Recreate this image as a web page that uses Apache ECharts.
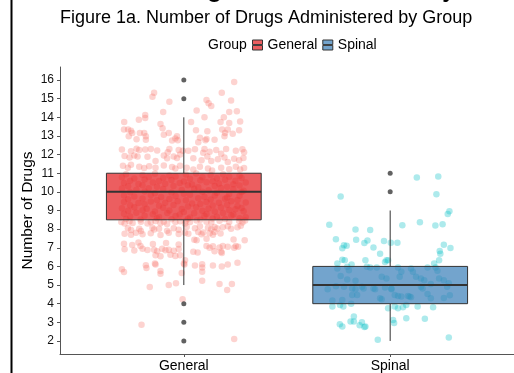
<!DOCTYPE html>
<html><head><meta charset="utf-8">
<script src="https://cdn.jsdelivr.net/npm/echarts@6/dist/echarts.min.js"></script>
<style>html,body{margin:0;padding:0;background:#fff}#c{width:514px;height:373px}</style>
</head><body><div id="c"></div>
<script>
const categories = ['General', 'Spinal'];
const yTicks = [2,3,4,5,6,7,8,9,10,11,12,13,14,15,16];
// box statistics: [lower whisker, Q1, median, Q3, upper whisker]
const generalBox = [5, 8.5, 10, 11, 14];
const spinalBox = [2, 4, 5, 6, 9];
const generalOutliers = [2, 3, 4, 15, 16];
const spinalOutliers = [10, 11];
// jittered observations: [horizontal jitter offset from category, value]
const generalJitter = [
[-0.144,15.32],[-0.152,15.11],[-0.07,14.83],[-0.10,14.29],[-0.187,14.13],[-0.187,13.96],[-0.218,13.87],[-0.289,13.75],[-0.29,13.34],[-0.27,13.34],[-0.256,13.28],[-0.25,13.16],[-0.113,13.64],[-0.103,13.41],[-0.073,13.16],[-0.097,13.07],[-0.213,13.16],[-0.192,13.16],[-0.184,12.98],[-0.267,12.98],[-0.229,12.82],[-0.184,12.8],[-0.057,12.75],[-0.041,12.86],[-0.033,12.98],[-0.029,12.77],
[-0.30,12.27],[-0.256,12.18],[-0.229,12.32],[-0.216,12.25],[-0.187,12.27],[-0.16,12.3],[-0.129,12.22],[-0.078,12.13],[-0.07,12.3],[-0.025,12.25],[-0.005,12.2],
[-0.287,11.92],[-0.263,11.85],[-0.24,11.95],[-0.224,11.9],[-0.176,11.88],[-0.137,11.65],[-0.097,11.95],[-0.081,11.8],[-0.049,11.9],[-0.033,11.82],[-0.018,12.0],
[-0.295,11.4],[-0.271,11.3],[-0.256,11.45],[-0.216,11.35],[-0.192,11.28],[-0.168,11.38],[-0.137,11.3],[-0.097,11.42],[-0.057,11.33],[-0.041,11.25],[-0.018,11.4],
[0.244,15.9],[0.184,15.32],[0.11,14.93],[0.12,14.76],[0.133,14.61],[0.229,14.9],[0.062,14.36],[0.10,14.01],[0.194,14.01],[0.22,14.29],[0.257,14.33],[0.035,13.75],[0.178,13.75],[0.22,13.7],[0.273,13.78],[0.059,13.3],[0.114,13.25],[0.186,13.34],[0.213,13.34],[0.2,13.16],[0.197,12.98],[0.237,13.12],[0.268,13.3],[0.078,12.9],[0.07,12.66],[0.11,12.84],[0.105,12.77],[0.149,12.8],
[0.022,12.2],[0.054,12.28],[0.094,12.1],[0.10,12.3],[0.125,12.15],[0.157,12.25],[0.181,12.05],[0.205,12.3],[0.252,12.2],[0.284,12.28],[0.292,12.12],
[0.046,11.8],[0.086,11.7],[0.114,11.9],[0.133,11.65],[0.165,11.75],[0.197,11.85],[0.213,11.6],[0.244,11.78],[0.268,11.7],[0.289,11.82],
[0.014,11.3],[0.046,11.2],[0.078,11.35],[0.117,11.25],[0.137,11.15],[0.181,11.3],[0.22,11.22],[0.252,11.35],[0.273,11.2],[0.292,11.28],
[-0.28,10.95],[-0.2,10.9],[-0.14,10.97],[-0.07,10.88],[0.01,10.93],[0.06,10.98],[0.13,10.9],[0.19,10.95],[0.27,10.87],
[-0.3,10.78],[-0.24,10.72],[-0.17,10.8],[-0.1,10.75],[-0.04,10.82],[0.03,10.7],[0.09,10.79],[0.16,10.73],[0.22,10.81],[0.28,10.74],
[-0.26,10.6],[-0.19,10.66],[-0.12,10.58],[-0.06,10.63],[0.0,10.55],[0.08,10.62],[0.14,10.57],[0.2,10.65],[0.25,10.59],
[-0.29,10.47],[-0.22,10.42],[-0.15,10.5],[-0.09,10.44],[-0.02,10.48],[0.04,10.4],[0.11,10.52],[0.17,10.45],[0.24,10.41],[0.3,10.5],
[-0.27,10.3],[-0.2,10.35],[-0.13,10.27],[-0.05,10.32],[0.02,10.36],[0.07,10.25],[0.15,10.31],[0.21,10.28],[0.27,10.34],
[-0.3,10.18],[-0.23,10.12],[-0.17,10.2],[-0.1,10.15],[-0.01,10.1],[0.05,10.17],[0.12,10.08],[0.18,10.21],[0.24,10.14],[0.29,10.06],
[-0.26,9.98],[-0.19,10.02],[-0.14,9.93],[-0.06,9.97],[0.0,9.9],[0.09,10.0],[0.16,9.95],[0.22,9.88],[0.28,9.99],
[-0.29,9.8],[-0.24,9.75],[-0.16,9.83],[-0.11,9.72],[-0.04,9.78],[0.03,9.85],[0.1,9.74],[0.15,9.81],[0.21,9.7],[0.27,9.79],
[-0.27,9.6],[-0.2,9.65],[-0.13,9.57],[-0.07,9.62],[0.01,9.55],[0.07,9.66],[0.13,9.59],[0.2,9.63],[0.26,9.56],
[-0.29,9.45],[-0.22,9.4],[-0.16,9.48],[-0.09,9.42],[-0.03,9.5],[0.04,9.38],[0.11,9.46],[0.17,9.41],[0.23,9.49],[0.3,9.43],
[-0.26,9.28],[-0.19,9.33],[-0.12,9.25],[-0.05,9.3],[0.02,9.22],[0.08,9.35],[0.14,9.27],[0.21,9.31],[0.26,9.24],
[-0.3,9.12],[-0.24,9.17],[-0.18,9.1],[-0.1,9.15],[-0.01,9.08],[0.06,9.18],[0.12,9.11],[0.18,9.16],[0.25,9.07],[0.28,9.14],
[-0.27,8.98],[-0.2,9.02],[-0.14,8.95],[-0.07,9.0],[0.0,8.92],[0.09,8.99],[0.15,8.94],[0.22,9.03],[0.29,8.96],
[-0.29,8.83],[-0.23,8.88],[-0.15,8.8],[-0.08,8.86],[-0.02,8.79],[0.05,8.85],[0.11,8.81],[0.19,8.87],[0.24,8.78],
[-0.26,8.68],[-0.19,8.72],[-0.12,8.65],[-0.04,8.7],[0.03,8.63],[0.1,8.71],[0.16,8.66],[0.23,8.73],[0.3,8.64],
[-0.28,8.55],[-0.21,8.52],[-0.13,8.58],[-0.06,8.53],[0.02,8.56],[0.08,8.51],[0.14,8.57],[0.2,8.54],[0.27,8.59],
[-0.303,8.38],[-0.287,8.3],[-0.263,8.42],[-0.248,8.33],[-0.208,8.4],[-0.176,8.3],[-0.16,8.38],[-0.137,8.44],[-0.113,8.32],[-0.097,8.4],[-0.081,8.28],[-0.041,8.38],[-0.018,8.42],[0.006,8.3],
[-0.271,8.05],[-0.256,7.95],[-0.216,8.02],[-0.208,7.9],[-0.152,8.08],[-0.144,7.98],[-0.12,8.02],[-0.081,7.92],[-0.049,8.05],[-0.025,7.97],
[-0.287,7.75],[-0.256,7.7],[-0.232,7.8],[-0.2,7.72],[-0.16,7.78],[-0.113,7.68],[-0.073,7.8],[-0.025,7.74],
[-0.29,7.22],[-0.25,7.15],[-0.22,7.28],[-0.21,7.1],[-0.15,7.2],[-0.086,7.25],[-0.025,7.18],
[-0.287,6.92],[-0.24,6.85],[-0.2,6.95],[-0.176,6.88],[-0.144,6.9],[-0.129,6.82],[-0.105,6.95],[-0.089,6.87],[-0.073,6.9],[-0.049,6.84],[-0.025,6.93],
[-0.137,6.6],[-0.113,6.55],[-0.065,6.62],[-0.041,6.56],[-0.018,6.6],
[0.006,6.33],[-0.184,6.06],[-0.181,5.92],[-0.137,6.1],[-0.3,5.85],[-0.29,5.7],[-0.113,5.6],[-0.01,5.65],[-0.165,4.9],[-0.073,5.0],[-0.038,5.09],[-0.006,4.24],[-0.205,2.87],[-0.14,6.15],[0.0,6.15],[-0.113,5.76],
[0.01,8.44],[0.03,8.38],[0.062,8.46],[0.11,8.4],[0.133,8.35],[0.173,8.45],[0.22,8.38],[0.268,8.43],[0.284,8.36],[0.297,8.47],
[0.014,8.12],[0.054,8.05],[0.078,8.15],[0.117,8.08],[0.133,8.0],[0.149,8.12],[0.162,8.04],[0.189,8.1],[0.213,8.15],[0.229,8.02],[0.26,8.1],[0.276,8.18],
[0.006,7.8],[0.022,7.75],[0.07,7.85],[0.086,7.72],[0.094,7.82],[0.125,7.78],[0.141,7.7],[0.149,7.85],[0.178,7.76],
[0.051,7.43],[0.062,7.4],[0.11,7.48],[0.241,7.45],[0.295,7.4],
[0.11,7.1],[0.125,7.0],[0.141,7.08],[0.173,7.02],[0.189,7.1],[0.213,7.05],[0.244,7.0],[0.252,7.1],[0.263,7.06],
[0.046,6.79],[0.067,6.75],[0.149,6.82],[0.181,6.78],[0.184,6.72],
[0.003,6.1],[0.054,6.05],[0.089,6.12],[0.141,6.05],[0.184,6.0],[0.213,6.1],[0.26,6.2],
[0.089,5.94],[0.089,5.71],[0.089,5.23],[0.173,5.05],[0.233,5.05],[0.21,4.73],[0.244,2.1]
];
const spinalJitter = [
[-0.24,9.75],[-0.295,8.23],[-0.168,7.98],[-0.097,7.96],[-0.263,7.46],[-0.165,7.43],[-0.125,7.25],[-0.11,7.39],[-0.224,7.13],[-0.211,7.11],[-0.232,6.97],[-0.081,7.02],[-0.049,6.68],[-0.03,7.36],[-0.232,6.36],[-0.22,6.33],[-0.256,6.15],[-0.12,6.33],[-0.025,6.24],[-0.018,6.33],[-0.187,6.1],
[-0.256,5.89],[-0.208,5.98],[-0.2,5.8],[-0.113,5.98],[-0.097,5.94],[-0.065,5.94],[-0.041,5.44],[-0.018,5.35],[-0.24,5.48],[-0.208,5.3],[-0.168,5.23],[-0.303,4.77],[-0.263,4.94],[-0.224,4.91],[-0.184,4.82],[-0.168,4.77],[-0.137,4.91],[-0.129,4.82],[-0.081,4.82],[-0.073,4.77],[-0.025,4.87],[0.006,4.82],[-0.184,4.46],[-0.16,4.46],[-0.28,4.17],[-0.232,4.2],[-0.049,4.29],[-0.041,4.24],
[-0.28,3.85],[-0.243,3.93],[-0.227,3.85],[-0.189,3.99],[-0.01,3.76],[-0.176,3.31],[-0.192,3.05],[-0.176,3.05],[-0.148,2.84],[-0.137,3.0],[-0.125,2.75],[-0.12,2.78],[-0.244,2.9],[-0.232,2.78],[-0.06,2.07],
[0.129,10.77],[0.233,10.82],[0.224,9.87],[0.287,8.96],[0.279,8.81],[0.059,8.21],[0.144,8.37],[0.219,8.19],[0.254,8.26],[0.003,7.27],[0.035,7.27],[0.26,7.16],[0.292,6.99],[0.24,6.83],[0.243,6.68],[0.237,6.33],[0.213,6.15],[-0.01,6.33],
[0.038,5.94],[0.054,5.71],[0.101,5.89],[0.11,5.71],[0.181,5.94],[0.22,5.94],[0.229,5.77],[0.046,5.44],[0.125,5.44],[0.149,5.35],[0.165,5.26],[0.237,5.35],[0.26,5.26],[0.284,5.09],[0.006,4.77],[0.149,4.91],[0.157,4.82],[0.197,5.05],[0.276,4.91],[0.022,4.46],[0.038,4.41],[0.054,4.38],[0.086,4.41],[0.094,4.38],[0.101,4.34],[0.181,4.52],[0.197,4.29],[0.26,4.31],[0.289,4.45],
[0.022,3.85],[0.038,3.76],[0.062,3.81],[0.078,3.93],[0.133,3.85],[0.208,3.81],[0.014,3.13],[0.019,2.96],[0.078,3.22],[0.168,3.19],[0.284,2.18]
];

const FONT = '"Liberation Sans", Arial, Helvetica, sans-serif';
const BOX_HALF = 0.375;

function boxRender(params, api) {
  const x = api.value(0);
  const pMin = api.coord([x, api.value(1)]);
  const pQ1 = api.coord([x, api.value(2)]);
  const pMed = api.coord([x, api.value(3)]);
  const pQ3 = api.coord([x, api.value(4)]);
  const pMax = api.coord([x, api.value(5)]);
  const xl = api.coord([x - BOX_HALF, api.value(3)])[0];
  const xr = api.coord([x + BOX_HALF, api.value(3)])[0];
  const stroke = '#333333';
  return {
    type: 'group',
    children: [
      { type: 'line', shape: { x1: pMin[0], y1: pMin[1], x2: pQ1[0], y2: pQ1[1] }, style: { stroke, lineWidth: 1 } },
      { type: 'line', shape: { x1: pQ3[0], y1: pQ3[1], x2: pMax[0], y2: pMax[1] }, style: { stroke, lineWidth: 1 } },
      { type: 'rect', shape: { x: xl, y: pQ3[1], width: xr - xl, height: pQ1[1] - pQ3[1] }, style: { fill: api.visual('color'), stroke, lineWidth: 1 } },
      { type: 'line', shape: { x1: xl, y1: pMed[1], x2: xr, y2: pMed[1] }, style: { stroke, lineWidth: 2 } }
    ]
  };
}

const chart = echarts.init(document.getElementById('c'), null, { renderer: 'canvas' });
chart.setOption({
  animation: false,
  backgroundColor: '#ffffff',
  textStyle: { fontFamily: FONT },
  title: {
    text: 'Figure 1a. Number of Drugs Administered by Group',
    left: 60, top: 9, padding: 0,
    textStyle: { fontFamily: FONT, fontSize: 18, fontWeight: 'normal', color: '#000' }
  },
  legend: {
    data: ['General', 'Spinal'],
    left: 252, top: 38, padding: 0,
    itemWidth: 10, itemHeight: 10, itemGap: 5,
    icon: 'path://M0,0H10V4.6H0Z M0,5.4H10V10H0Z',
    itemStyle: { borderColor: '#333', borderWidth: 1 },
    textStyle: { fontFamily: FONT, fontSize: 14, color: '#000' },
    selectedMode: false
  },
  graphic: [
    { type: 'line', shape: { x1: 11.5, y1: 0, x2: 11.5, y2: 373 }, style: { stroke: '#000', lineWidth: 2 }, silent: true },
    { type: 'text', x: 208, y: 45, style: { text: 'Group', fontFamily: FONT, fontSize: 14, fill: '#000', verticalAlign: 'middle', align: 'left' }, silent: true },
    { type: 'text', x: -128, y: -12, style: { text: 'Figure 1a. Number of Drugs Administered by Group', fontFamily: FONT, fontSize: 29.5, fill: '#000', verticalAlign: 'middle', align: 'left' }, silent: true }
  ],
  grid: { left: 60, right: -9, top: 67, bottom: 19, containLabel: false },
  xAxis: {
    type: 'value', min: 0.4, max: 2.6,
    splitLine: { show: false },
    axisLine: { show: true, onZero: false, lineStyle: { color: '#555', width: 1 } },
    axisTick: { show: true, customValues: [1, 2], length: 3, lineStyle: { color: '#555' } },
    axisLabel: { customValues: [1, 2], formatter: v => categories[Math.round(v) - 1] || '', fontFamily: FONT, fontSize: 14, color: '#000', margin: 5 }
  },
  yAxis: {
    type: 'value', min: 1.3, max: 16.7,
    splitLine: { show: false },
    axisLine: { show: true, onZero: false, lineStyle: { color: '#555', width: 1 } },
    axisTick: { show: true, customValues: yTicks, length: 3, lineStyle: { color: '#555' } },
    axisLabel: { customValues: yTicks, fontFamily: FONT, fontSize: 12, color: '#111', margin: 6 },
    name: 'Number of Drugs', nameLocation: 'middle', nameGap: 24, nameMoveOverlap: false,
    nameTextStyle: { fontFamily: FONT, fontSize: 15.5, color: '#000' }
  },
  series: [
    { name: 'General points', type: 'scatter', z: 1, silent: true, symbolSize: 6.5,
      itemStyle: { color: 'rgba(248,118,109,0.4)' },
      data: generalJitter.map(p => [1 + p[0], p[1]]) },
    { name: 'Spinal points', type: 'scatter', z: 1, silent: true, symbolSize: 6.5,
      itemStyle: { color: 'rgba(0,191,196,0.4)' },
      data: spinalJitter.map(p => [2 + p[0], p[1]]) },
    { name: 'General', type: 'custom', z: 3, silent: true, renderItem: boxRender,
      itemStyle: { color: 'rgba(228,26,28,0.7)' },
      encode: { x: 0, y: [1, 2, 3, 4, 5] },
      data: [[1].concat(generalBox)] },
    { name: 'Spinal', type: 'custom', z: 3, silent: true, renderItem: boxRender,
      itemStyle: { color: 'rgba(55,126,184,0.7)' },
      encode: { x: 0, y: [1, 2, 3, 4, 5] },
      data: [[2].concat(spinalBox)] },
    { name: 'Outliers', type: 'scatter', z: 4, silent: true, symbolSize: 5,
      itemStyle: { color: '#3a3a3a' },
      data: generalOutliers.map(v => [1, v]).concat(spinalOutliers.map(v => [2, v])) }
  ]
});
</script></body></html>
